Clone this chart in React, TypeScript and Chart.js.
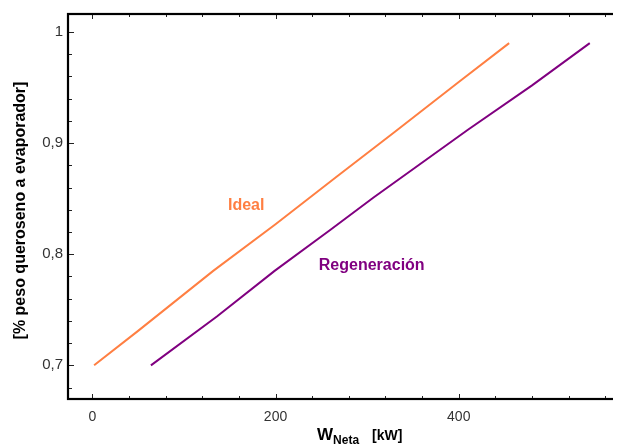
import React, { useEffect, useRef } from "react";
import { Chart, registerables } from "chart.js";

Chart.register(...registerables);

// Fraction of kerosene sent to the evaporator vs. net power output
const IDEAL_X = [2, 50, 132, 200, 267, 330, 400, 455];
const IDEAL_Y = [0.7, 0.731, 0.785, 0.827, 0.87, 0.91, 0.955, 0.99];
const REGEN_X = [64, 136, 199, 260, 307, 410, 480, 543];
const REGEN_Y = [0.7, 0.744, 0.785, 0.822, 0.851, 0.912, 0.952, 0.99];

const X_MAJOR = [0, 200, 400];
const X_MINOR = [40, 80, 120, 160, 240, 280, 320, 360, 440, 480, 520, 560];
const Y_MAJOR = [0.7, 0.8, 0.9, 1.0];
const Y_MINOR = [0.68, 0.72, 0.74, 0.76, 0.78, 0.82, 0.84, 0.86, 0.88, 0.92, 0.94, 0.96, 0.98];

const ORANGE = "#ff7f42";
const PURPLE = "#800080";
const FONT = "'Liberation Sans', Arial, sans-serif";

const fmt = (v: number) => String(Math.round(v * 100) / 100).replace(".", ",");

const framePlugin = {
  id: "frameAndTicks",
  afterDraw(chart: any) {
    const { ctx, chartArea: a, scales } = chart;
    const xs = scales.x;
    const ys = scales.y;
    ctx.save();
    // inward ticks on bottom, top and left edges
    ctx.strokeStyle = "#222";
    ctx.lineWidth = 1;
    const xt = (vals: number[], len: number) => {
      for (const v of vals) {
        const px = Math.round(xs.getPixelForValue(v)) + 0.5;
        ctx.beginPath();
        ctx.moveTo(px, a.bottom);
        ctx.lineTo(px, a.bottom - len);
        ctx.moveTo(px, a.top);
        ctx.lineTo(px, a.top + len);
        ctx.stroke();
      }
    };
    const yt = (vals: number[], len: number) => {
      for (const v of vals) {
        const py = Math.round(ys.getPixelForValue(v)) + 0.5;
        ctx.beginPath();
        ctx.moveTo(a.left, py);
        ctx.lineTo(a.left + len, py);
        ctx.stroke();
      }
    };
    xt(X_MAJOR, 5);
    xt(X_MINOR, 3);
    yt(Y_MAJOR, 6);
    yt(Y_MINOR, 4);
    // plot frame
    ctx.strokeStyle = "#000";
    ctx.lineWidth = 2.2;
    ctx.strokeRect(a.left, a.top, a.right - a.left, a.bottom - a.top);

    // series labels
    ctx.font = `bold 16px ${FONT}`;
    ctx.textAlign = "center";
    ctx.textBaseline = "middle";
    ctx.fillStyle = ORANGE;
    ctx.fillText("Ideal", xs.getPixelForValue(168), ys.getPixelForValue(0.8434));
    ctx.fillStyle = PURPLE;
    ctx.fillText("Regeneración", xs.getPixelForValue(305), ys.getPixelForValue(0.7894));

    // y axis title
    ctx.fillStyle = "#000";
    ctx.save();
    ctx.translate(13, 202.5);
    ctx.rotate(-Math.PI / 2);
    ctx.font = `bold 16px ${FONT}`;
    ctx.textAlign = "center";
    ctx.textBaseline = "middle";
    ctx.fillText("[% peso queroseno a evaporador]", 0, 0);
    ctx.restore();

    // x axis title with subscript
    ctx.textAlign = "left";
    ctx.textBaseline = "alphabetic";
    let x = 309;
    ctx.font = `bold 17px ${FONT}`;
    ctx.fillText("W", x, 431.5);
    x += ctx.measureText("W").width;
    ctx.font = `bold 12px ${FONT}`;
    ctx.fillText("Neta", x, 436);
    ctx.font = `bold 14px ${FONT}`;
    ctx.fillText("[kW]", 364, 431.5);
    ctx.restore();
  },
};

export default function App() {
  const ref = useRef<HTMLCanvasElement>(null);

  useEffect(() => {
    if (!ref.current) return;
    const chart = new Chart(ref.current, {
      type: "scatter",
      data: {
        datasets: [
          {
            label: "Ideal",
            data: IDEAL_X.map((x, i) => ({ x, y: IDEAL_Y[i] })),
            showLine: true,
            borderColor: ORANGE,
            borderWidth: 2,
            pointRadius: 0,
            tension: 0,
          },
          {
            label: "Regeneración",
            data: REGEN_X.map((x, i) => ({ x, y: REGEN_Y[i] })),
            showLine: true,
            borderColor: PURPLE,
            borderWidth: 2,
            pointRadius: 0,
            tension: 0,
          },
        ],
      },
      options: {
        animation: false,
        responsive: true,
        maintainAspectRatio: false,
        layout: { padding: { top: 6, right: 26, left: 0, bottom: 0 } },
        plugins: { legend: { display: false }, tooltip: { enabled: false } },
        scales: {
          x: {
            type: "linear",
            min: -26.5,
            max: 600,
            grid: { display: false, drawTicks: false },
            border: { display: false },
            afterFit: (s: any) => {
              s.height = 46;
              s.paddingLeft = 0;
              s.paddingRight = 0;
            },
            afterBuildTicks: (s: any) => {
              s.ticks = X_MAJOR.map((v) => ({ value: v }));
            },
            ticks: {
              padding: 10,
              color: "#333",
              font: { family: FONT, size: 14 },
              callback: (v: any) => fmt(Number(v)),
            },
          },
          y: {
            type: "linear",
            min: 0.6697,
            max: 1.0162,
            grid: { display: false, drawTicks: false },
            border: { display: false },
            afterFit: (s: any) => {
              s.width = 60;
              s.paddingTop = 0;
              s.paddingBottom = 0;
            },
            afterBuildTicks: (s: any) => {
              s.ticks = Y_MAJOR.map((v) => ({ value: v }));
            },
            ticks: {
              padding: 5,
              color: "#333",
              font: { family: FONT, size: 15 },
              callback: (v: any) => fmt(Number(v)),
            },
          },
        },
      },
      plugins: [framePlugin],
    });
    return () => chart.destroy();
  }, []);

  return (
    <div style={{ width: 613, height: 437, overflow: "hidden" }}>
      <div style={{ width: 660, height: 437, position: "relative" }}>
        <canvas ref={ref} />
      </div>
    </div>
  );
}
